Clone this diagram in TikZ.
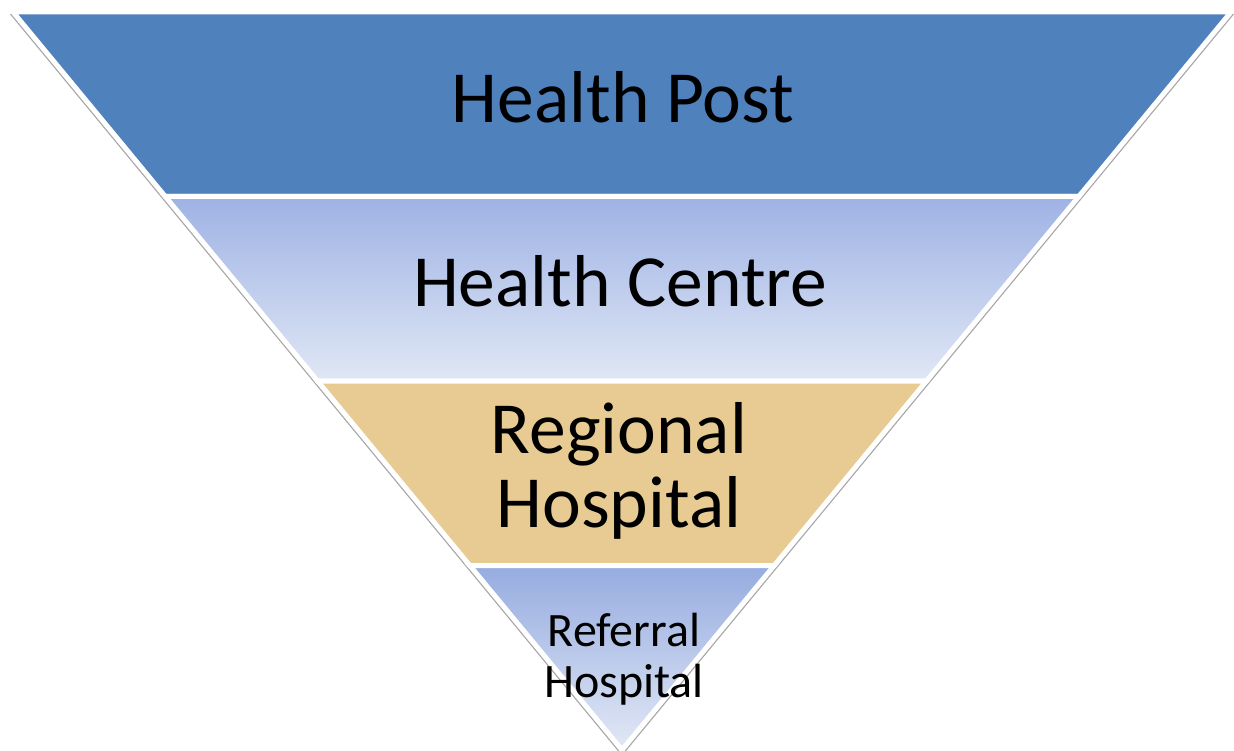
\documentclass[tikz,border=0pt]{standalone}
\usepackage{fontspec}
\setmainfont{Carlito}
\usepackage{tikz}
\definecolor{post_blue}{RGB}{79,129,189}
\definecolor{centre_top}{RGB}{158,178,228}
\definecolor{centre_bottom}{RGB}{224,231,245}
\definecolor{regional_tan}{RGB}{231,203,146}
\definecolor{referral_top}{RGB}{150,172,224}
\definecolor{referral_bottom}{RGB}{226,232,245}
\tikzset{
  big_font/.style = {font=\fontsize{73.5}{74}\selectfont},
  small_font/.style = {font=\fontsize{48}{51}\selectfont},
  band_outline/.style = {draw=white, line width=5pt, line join=miter}
}
\tikzset{
  band/.style = {band_outline},
  band_text/.style = {big_font, align=center, anchor=base, inner sep=0},
  band_text_small/.style = {band_text, small_font},
  shadow_edge/.style = {draw=black!35, line width=7.5pt, line join=miter}
}
\usetikzlibrary{calc}

\begin{document}
\begin{tikzpicture}[x=1pt, y=-1pt]{
        \useasboundingbox (0,0) rectangle (1234,751);

        % Corners of the pyramid
        \coordinate (tl) at (13,12);
        \coordinate (tr) at (1231,12);
        \coordinate (apex) at (622,750);

        % Band limits
        \coordinate (l1) at ($(tl)!0.25!(apex)$);
        \coordinate (r1) at ($(tr)!0.25!(apex)$);
        \coordinate (l2) at ($(tl)!0.5!(apex)$);
        \coordinate (r2) at ($(tr)!0.5!(apex)$);
        \coordinate (l3) at ($(tl)!0.75!(apex)$);
        \coordinate (r3) at ($(tr)!0.75!(apex)$);

        % Shadow
        \draw[shadow_edge] (tl)--(apex)--(tr);

        % Bands
        \path[band, fill=post_blue] (tl)--(tr)--(r1)--(l1)--cycle;
        \path[band, top color=centre_top, bottom color=centre_bottom] (l1)--(r1)--(r2)--(l2)--cycle;
        \path[band, fill=regional_tan] (l2)--(r2)--(r3)--(l3)--cycle;
        \path[band, top color=referral_top, bottom color=referral_bottom] (l3)--(r3)--(apex)--cycle;

        % Labels (base anchor sits on the last line)
        \node[band_text] at (623,123) (post) {Health Post};
        \node[band_text] at (620,306) (centre) {Health Centre};
        \node[band_text] at (619,527) (regional) {Regional\\Hospital};
        \node[band_text_small] at (624,697) (referral) {Referral\\Hospital};
        }
\end{tikzpicture}
\end{document}
